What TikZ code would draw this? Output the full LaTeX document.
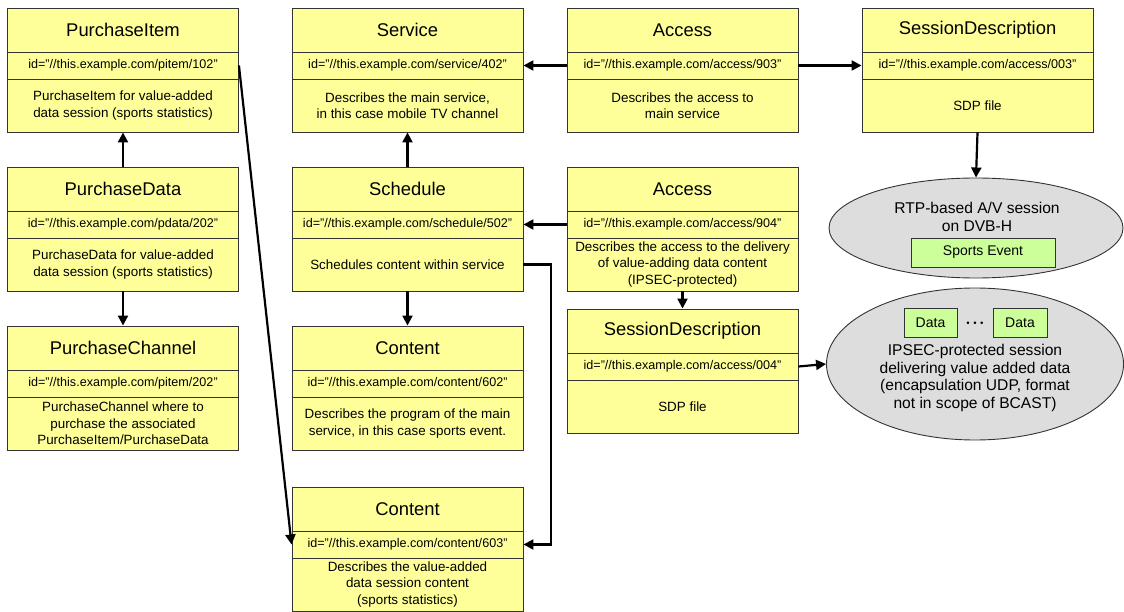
\documentclass[tikz,border=0pt]{standalone}
\usepackage{fontspec}
\setmainfont{Liberation Sans}
\usetikzlibrary{shapes.geometric,arrows.meta}
\definecolor{boxyellow}{HTML}{FFFF99}
\definecolor{boxgreen}{HTML}{CCFF99}
\definecolor{sessiongray}{HTML}{DDDDDD}
\begin{document}
\begin{tikzpicture}
 [
 x=1pt, y=-1pt,
 headbox/.style={rectangle, draw=black!80, fill=boxyellow, line width=0.9pt, minimum width=231pt, minimum height=44pt, font=\fontsize{18.4}{21}\selectfont},
 idbox/.style={rectangle, draw=black!80, fill=boxyellow, line width=0.9pt, minimum width=231pt, minimum height=27pt, font=\fontsize{12.6}{14}\selectfont},
 descbox/.style={rectangle, draw=black!80, fill=boxyellow, line width=0.9pt, minimum width=231pt, minimum height=53pt, align=center, font=\fontsize{13.4}{16.5}\selectfont},
 session/.style={ellipse, draw=black!80, fill=sessiongray, line width=0.9pt, inner sep=0pt},
 flowbox/.style={rectangle, draw=black!80, fill=boxgreen, line width=0.9pt, font=\fontsize{14}{16}\selectfont},
 plaintext/.style={align=center, font=\fontsize{15.6}{17.5}\selectfont},
 conn/.style={line width=2.2pt, -{Triangle[length=10pt,width=10pt]}}
 ]
 \useasboundingbox (0,0) rectangle (1124,612);
 % purchase column
 \node at (123,30)    [headbox]  (pitem)      {PurchaseItem};
 \node at (123,65.5)  [idbox]    (pitemid)    {id="//this.example.com/pitem/102"};
 \node at (123,105.5) [descbox]  (pitemdesc)  {PurchaseItem for value-added\\data session (sports statistics)};
 \node at (123,189)   [headbox]  (pdata)      {PurchaseData};
 \node at (123,224.5) [idbox]    (pdataid)    {id="//this.example.com/pdata/202"};
 \node at (123,264.5) [descbox]  (pdatadesc)  {PurchaseData for value-added\\data session (sports statistics)};
 \node at (123,348)   [headbox]  (pchan)      {PurchaseChannel};
 \node at (123,383.5) [idbox]    (pchanid)    {id="//this.example.com/pitem/202"};
 \node at (123,423.5) [descbox]  (pchandesc)  {PurchaseChannel where to\\purchase the associated\\PurchaseItem/PurchaseData};
 % service column
 \node at (407.5,30)    [headbox]  (service)      {Service};
 \node at (407.5,65.5)  [idbox]    (serviceid)    {id="//this.example.com/service/402"};
 \node at (407.5,105.5) [descbox]  (servicedesc)  {Describes the main service,\\in this case mobile TV channel};
 \node at (407.5,189)   [headbox]  (sched)        {Schedule};
 \node at (407.5,224.5) [idbox]    (schedid)      {id="//this.example.com/schedule/502"};
 \node at (407.5,264.5) [descbox]  (scheddesc)    {Schedules content within service};
 \node at (407.5,348)   [headbox]  (content)      {Content};
 \node at (407.5,383.5) [idbox]    (contentid)    {id="//this.example.com/content/602"};
 \node at (407.5,423.5) [descbox]  (contentdesc)  {Describes the program of the main\\service, in this case sports event.};
 \node at (407.5,509)   [headbox]  (datacont)     {Content};
 \node at (407.5,544.5) [idbox]    (datacontid)   {id="//this.example.com/content/603"};
 \node at (407.5,584.5) [descbox]  (datacontdesc) {Describes the value-added\\data session content\\(sports statistics)};
 % access column
 \node at (682.5,30)    [headbox]  (access)         {Access};
 \node at (682.5,65.5)  [idbox]    (accessid)       {id="//this.example.com/access/903"};
 \node at (682.5,105.5) [descbox]  (accessdesc)     {Describes the access to\\main service};
 \node at (682.5,189)   [headbox]  (dataaccess)     {Access};
 \node at (682.5,224.5) [idbox]    (dataaccessid)   {id="//this.example.com/access/904"};
 \node at (682.5,264.5) [descbox]  (dataaccessdesc) {Describes the access to the delivery\\of value-adding data content\\(IPSEC-protected)};
 \node at (682.5,331)   [headbox]  (datasdp)        {SessionDescription};
 \node at (682.5,366.5) [idbox]    (datasdpid)      {id="//this.example.com/access/004"};
 \node at (682.5,406.5) [descbox]  (datasdpdesc)    {SDP file};
 % session column
 \node at (977.5,30)    [headbox]  (sdp)      {SessionDescription};
 \node at (977.5,65.5)  [idbox]    (sdpid)    {id="//this.example.com/access/003"};
 \node at (977.5,105.5) [descbox]  (sdpdesc)  {SDP file};
 \node at (976,228) [session, minimum width=294pt, minimum height=100pt] (avsession) {};
 \node at (977,217) [plaintext] (avtext) {RTP-based A/V session\\on DVB-H};
 \node at (983,252.5) [flowbox, minimum width=144pt, minimum height=29pt] (sports) {Sports Event};
 \node at (975,364) [session, minimum width=297pt, minimum height=152pt] (datasession) {};
 \node at (930.5,322.5) [flowbox, minimum width=53pt, minimum height=29pt] (data1) {Data};
 \node at (1020,322.5)  [flowbox, minimum width=54pt, minimum height=29pt] (data2) {Data};
 \node at (975,324) [font=\fontsize{26}{26}\selectfont] (dots) {${\cdot}{\cdot}{\cdot}$};
 \node at (975,378) [plaintext] (datatext) {IPSEC-protected session\\delivering value added data\\(encapsulation UDP, format\\not in scope of BCAST)};
 % connectors
 \draw[conn] (pdata.north) -- (pitemdesc.south);
 \draw[conn] (pdatadesc.south) -- (pchan.north);
 \draw[conn] (pitemid.east) -- (datacontid.west);
 \draw[conn] (sched.north) -- (servicedesc.south);
 \draw[conn] (scheddesc.south) -- (content.north);
 \coordinate (bend) at (551,544.5);
 \draw[conn] (scheddesc.east) -| (bend) -- (datacontid.east);
 \draw[conn] (accessid.west) -- (serviceid.east);
 \draw[conn] (accessid.east) -- (sdpid.west);
 \draw[conn] (sdpdesc.south) -- (avsession.north);
 \draw[conn] (dataaccessid.west) -- (schedid.east);
 \draw[conn] (dataaccessdesc.south) -- (datasdp.north);
 \draw[conn] (datasdpid.east) -- (datasession.west);
\end{tikzpicture}
\end{document}
